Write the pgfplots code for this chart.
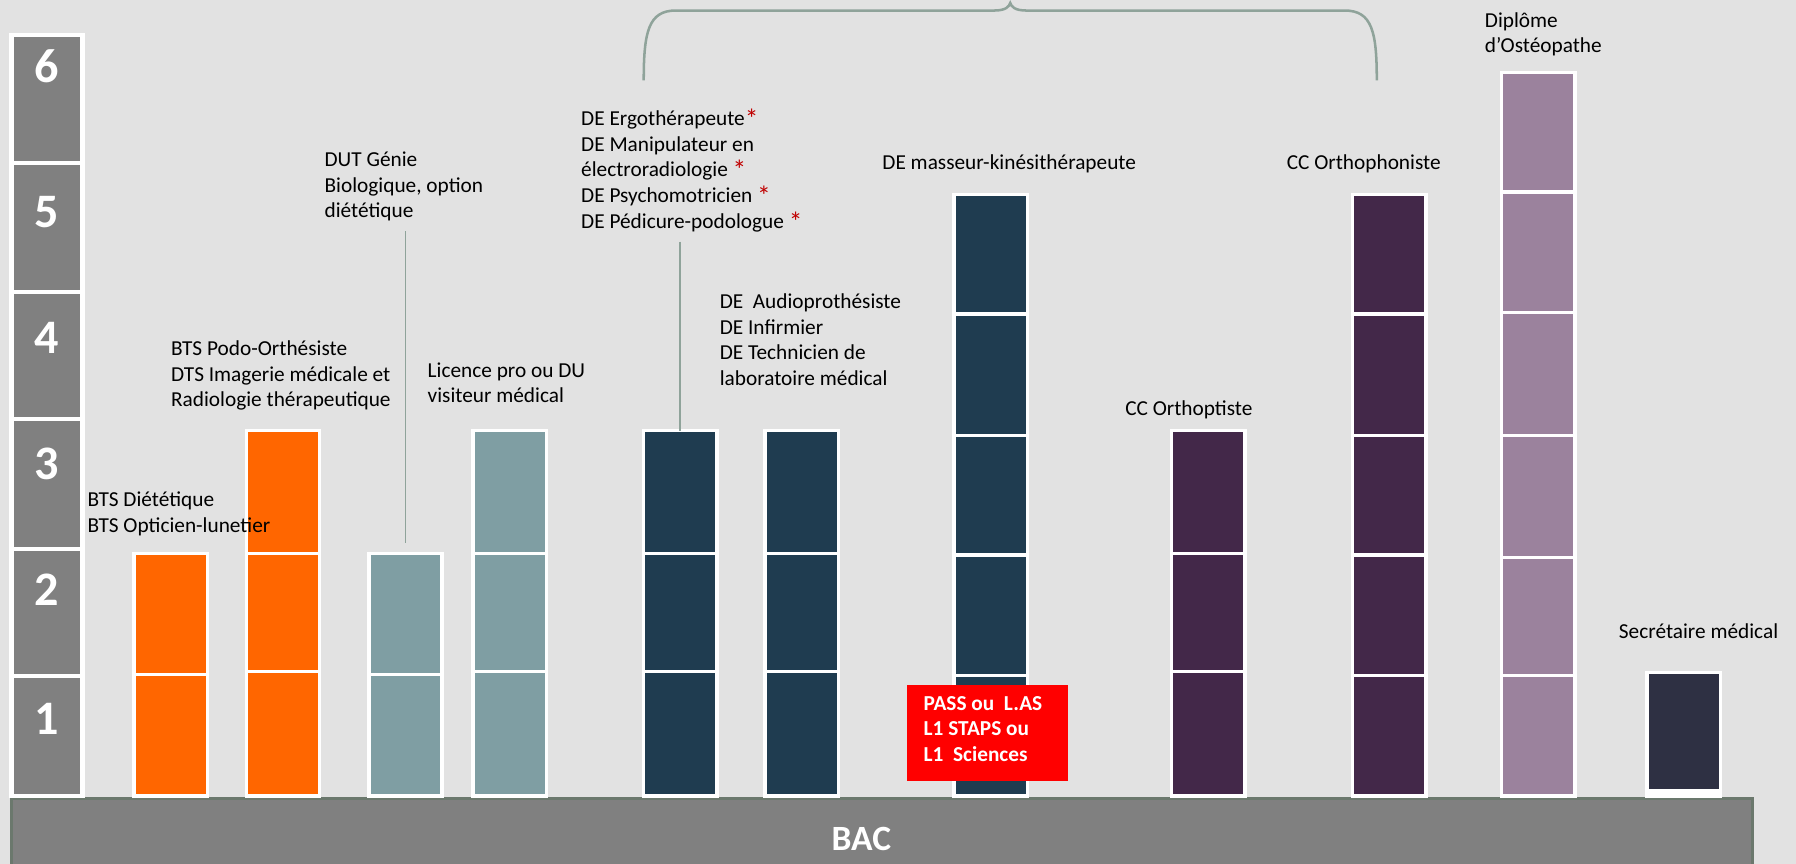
\documentclass[border=0pt]{standalone}
\usepackage{pgfplots}
\pgfplotsset{compat=1.18}
\usepackage{fontspec}
\setmainfont{Carlito}

\definecolor{bg}{HTML}{E2E2E2}
\definecolor{lvl}{HTML}{808080}
\definecolor{bacline}{HTML}{6B786D}
\definecolor{orng}{HTML}{FF6600}
\definecolor{tealg}{HTML}{7F9EA3}
\definecolor{navy}{HTML}{1F3C50}
\definecolor{plum}{HTML}{432849}
\definecolor{mauve}{HTML}{9B829D}
\definecolor{ink}{HTML}{2E3043}
\definecolor{bracec}{HTML}{8FA39A}
\definecolor{star}{HTML}{C00000}

% one stacked column = tallest bar first, shorter ones laid over it
\pgfplotsset{blk/.style={ybar, bar shift=0pt, bar width=64, draw=white, line width=1.5pt, fill=#1}}
\tikzset{lbl/.style={anchor=north west, inner sep=0pt, align=left, text=black,
    font=\fontsize{9.3}{11.15}\selectfont},
  num/.style={text=white, font=\fontsize{21}{21}\selectfont\bfseries}}
\newcommand{\st}{\textcolor{star}{\raisebox{-1.3pt}{\fontsize{12}{12}\selectfont *}}}

\begin{document}
\begin{tikzpicture}
\begin{axis}[
    scale only axis,
    width=784pt, height=377pt,
    xmin=0, xmax=1568,
    ymin=-0.532, ymax=6.273,
    axis line style={draw=none},
    ticks=none,
    axis background/.style={fill=bg},
    clip=true,
]

% BAC base
\addplot[fill=lvl, draw=none] coordinates {(10,-0.02) (1530,-0.02) (1530,-0.532) (10,-0.532)} -- cycle;
\addplot[draw=bacline, line width=1.5pt] coordinates {(10,-0.532) (10,-0.02) (1530,-0.02) (1530,-0.532)};

% level scale on the left
\addplot[blk=lvl, bar width=62, line width=1.8pt] coordinates {(41,6.0) (41,4.99) (41,3.97) (41,2.97) (41,1.945) (41,0.948)};

% columns (level reached by each stacked segment)
\addplot[blk=orng]  coordinates {(149,1.91) (149,0.96)};
\addplot[blk=orng]  coordinates {(247,2.88) (247,1.91) (247,0.98)};
\addplot[blk=tealg] coordinates {(354,1.91) (354,0.96)};
\addplot[blk=tealg] coordinates {(445,2.88) (445,1.91) (445,0.98)};
\addplot[blk=navy]  coordinates {(594,2.88) (594,1.91) (594,0.98)};
\addplot[blk=navy]  coordinates {(700,2.88) (700,1.91) (700,0.98)};
\addplot[blk=navy]  coordinates {(865,4.74) (865,3.80) (865,2.84) (865,1.90) (865,0.95)};
\addplot[blk=plum]  coordinates {(1055,2.88) (1055,1.91) (1055,0.98)};
\addplot[blk=plum]  coordinates {(1213,4.74) (1213,3.80) (1213,2.84) (1213,1.90) (1213,0.95)};
\addplot[blk=mauve] coordinates {(1343,5.70) (1343,4.76) (1343,3.81) (1343,2.84) (1343,1.88) (1343,0.95)};
\addplot[blk=ink]   coordinates {(1470,0.975)};
\addplot[blk=white] coordinates {(1470,0.045)};

% red box
\addplot[fill=red, draw=none] coordinates {(792,0.117) (932,0.117) (932,0.875) (792,0.875)} -- cycle;

% brace and connectors
\draw[bracec, line width=1.1pt] (axis cs:562,5.64) .. controls (axis cs:562,6.02) and (axis cs:566,6.19) .. (axis cs:590,6.19)
    -- (axis cs:868,6.19) .. controls (axis cs:878,6.19) and (axis cs:881,6.22) .. (axis cs:882,6.25)
    .. controls (axis cs:883,6.22) and (axis cs:886,6.19) .. (axis cs:896,6.19)
    -- (axis cs:1174,6.19) .. controls (axis cs:1198,6.19) and (axis cs:1202,6.02) .. (axis cs:1202,5.64);
\draw[bracec, line width=0.8pt] (axis cs:354,4.45) -- (axis cs:354,1.995);
\draw[bracec, line width=0.8pt] (axis cs:594,4.37) -- (axis cs:594,2.88);

% level numbers
\node[num] at (axis cs:41,5.75) {6};
\node[num] at (axis cs:41,4.60) {5};
\node[num] at (axis cs:41,3.61) {4};
\node[num] at (axis cs:41,2.62) {3};
\node[num] at (axis cs:41,1.625) {2};
\node[num] at (axis cs:41,0.605) {1};
\node[text=white, font=\fontsize{15.5}{16}\selectfont\bfseries] at (axis cs:752,-0.334) {BAC};

% labels
\node[lbl] at (axis cs:76,2.40) {BTS Diététique\\BTS Opticien-lunetier};
\node[lbl] at (axis cs:149,3.59) {BTS Podo-Orthésiste\\DTS Imagerie médicale et\\Radiologie thérapeutique};
\node[lbl] at (axis cs:283,5.08) {DUT Génie\\Biologique, option\\diététique};
\node[lbl] at (axis cs:373,3.42) {Licence pro ou DU\\visiteur médical};
\node[lbl] at (axis cs:507,5.415) {DE Ergothérapeute\st\\DE Manipulateur en\\électroradiologie \st\\DE Psychomotricien \st\\DE Pédicure-podologue \st};
\node[lbl] at (axis cs:628,3.96) {DE\ \ Audioprothésiste\\DE Infirmier\\DE Technicien de\\laboratoire médical};
\node[lbl] at (axis cs:770,5.06) {DE masseur-kinésithérapeute};
\node[lbl] at (axis cs:982,3.12) {CC Orthoptiste};
\node[lbl] at (axis cs:1123,5.06) {CC Orthophoniste};
\node[lbl] at (axis cs:1296,6.18) {Diplôme\\d’Ostéopathe};
\node[lbl] at (axis cs:1413,1.36) {Secrétaire médical};
\node[lbl, text=white, font=\fontsize{9.3}{11.15}\selectfont\bfseries] at (axis cs:806,0.79) {PASS ou\ \ L.AS\\L1 STAPS ou\\L1\ \ Sciences};
\end{axis}
\pgfresetboundingbox
\path[use as bounding box] (current axis.south west) rectangle (current axis.north east);
\end{tikzpicture}
\end{document}
